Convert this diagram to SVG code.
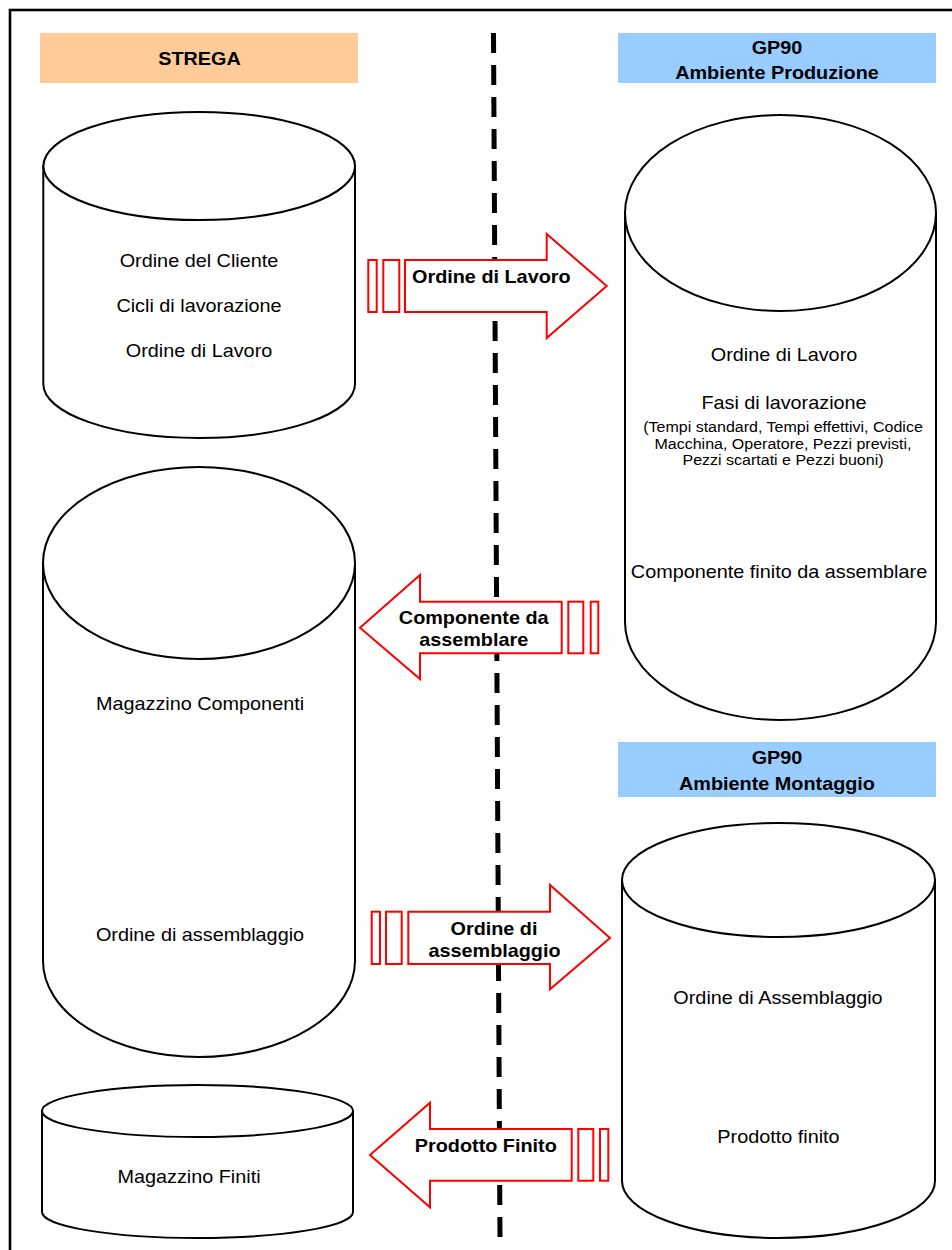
<svg xmlns="http://www.w3.org/2000/svg" width="952" height="1250" viewBox="0 0 952 1250">
  <style>
    .frame { fill: none; stroke: #000; stroke-width: 2.6; }
    .hdr-s { fill: #FFCC99; }
    .hdr-g { fill: #99CCFF; }
    .cyl { fill: #fff; stroke: #000; stroke-width: 2; }
    .flow { fill: #fff; stroke: #FF0000; stroke-width: 2; }
    .divider { fill: none; stroke: #000; stroke-width: 5; stroke-dasharray: 20 12; }
    text { font-family: "Liberation Sans", Arial, sans-serif; text-anchor: middle; fill: #000; }
    .t { font-size: 18.2px; }
    .s { font-size: 14.7px; }
    .b { font-size: 18.2px; font-weight: bold; }
  </style>

  <rect class="frame" x="10" y="10" width="960" height="1260"/>

  <!-- system headers -->
  <g id="hdr-strega">
    <rect class="hdr-s" x="40" y="33" width="318" height="50"/>
    <text class="b" transform="translate(199.5 65) scale(1.09 1)">STREGA</text>
  </g>
  <g id="hdr-produzione">
    <rect class="hdr-g" x="618" y="33" width="318" height="50"/>
    <text class="b" transform="translate(777 54) scale(1.09 1)">GP90</text>
    <text class="b" transform="translate(777 79) scale(1.09 1)">Ambiente Produzione</text>
  </g>
  <g id="hdr-montaggio">
    <rect class="hdr-g" x="618" y="742" width="318" height="55"/>
    <text class="b" transform="translate(777 764) scale(1.09 1)">GP90</text>
    <text class="b" transform="translate(777 790) scale(1.09 1)">Ambiente Montaggio</text>
  </g>

  <!-- boundary between the two systems -->
  <g id="divider">
    <line class="divider" x1="493.5" y1="33" x2="500" y2="1240"/>
  </g>

  <!-- data stores -->
  <g id="db-strega">
    <path class="cyl" d="M43.3,166 L43.3,384 A155.8,54 0 0 0 355,384 L355,166 Z"/>
    <ellipse class="cyl" cx="199.2" cy="166" rx="155.8" ry="54"/>
    <text class="t" transform="translate(199 266.7) scale(1.09 1)">Ordine del Cliente</text>
    <text class="t" transform="translate(199 311.7) scale(1.09 1)">Cicli di lavorazione</text>
    <text class="t" transform="translate(199 356.7) scale(1.09 1)">Ordine di Lavoro</text>
  </g>

  <g id="db-magazzino-componenti">
    <path class="cyl" d="M43,563 L43,961 A156,96 0 0 0 355,961 L355,563 Z"/>
    <ellipse class="cyl" cx="199" cy="563" rx="156" ry="96"/>
    <text class="t" transform="translate(200 710) scale(1.09 1)">Magazzino Componenti</text>
    <text class="t" transform="translate(200 941) scale(1.09 1)">Ordine di assemblaggio</text>
  </g>

  <g id="db-magazzino-finiti">
    <path class="cyl" d="M42,1111 L42,1212 A155.5,26 0 0 0 353,1212 L353,1111 Z"/>
    <ellipse class="cyl" cx="197.5" cy="1111" rx="155.5" ry="26"/>
    <text class="t" transform="translate(189 1183.3) scale(1.09 1)">Magazzino Finiti</text>
  </g>

  <g id="db-produzione">
    <path class="cyl" d="M625,213 L625,622 A155.5,98 0 0 0 936,622 L936,213 Z"/>
    <ellipse class="cyl" cx="780.5" cy="213" rx="155.5" ry="98"/>
    <text class="t" transform="translate(784 361) scale(1.09 1)">Ordine di Lavoro</text>
    <text class="t" transform="translate(784 409) scale(1.09 1)">Fasi di lavorazione</text>
    <text class="s" transform="translate(783 432) scale(1.09 1)">(Tempi standard, Tempi effettivi, Codice</text>
    <text class="s" transform="translate(783 449) scale(1.09 1)">Macchina, Operatore, Pezzi previsti,</text>
    <text class="s" transform="translate(783 465) scale(1.09 1)">Pezzi scartati e Pezzi buoni)</text>
    <text class="t" transform="translate(779 578.3) scale(1.09 1)">Componente finito da assemblare</text>
  </g>

  <g id="db-montaggio">
    <path class="cyl" d="M622,880 L622,1181 A156.5,57 0 0 0 935,1181 L935,880 Z"/>
    <ellipse class="cyl" cx="778.5" cy="880" rx="156.5" ry="57"/>
    <text class="t" transform="translate(778 1004) scale(1.09 1)">Ordine di Assemblaggio</text>
    <text class="t" transform="translate(778.5 1143) scale(1.09 1)">Prodotto finito</text>
  </g>

  <!-- data flows between the systems -->
  <g id="flows">
    <g id="flow-ordine-lavoro">
      <rect class="flow" x="368.3" y="260" width="8.4" height="52"/>
      <rect class="flow" x="383.3" y="260" width="16" height="52"/>
      <polygon class="flow" points="405,260 546.7,260 546.7,234 606.7,286 546.7,338 546.7,312 405,312"/>
      <text class="b" transform="translate(491.3 283.3) scale(1.09 1)">Ordine di Lavoro</text>
    </g>
    <g id="flow-componente">
      <rect class="flow" x="568.3" y="601.7" width="15" height="51.6"/>
      <rect class="flow" x="590.7" y="601.7" width="7.6" height="51.6"/>
      <polygon class="flow" points="561.7,601.7 420,601.7 420,575 360,627.7 420,679 420,653.3 561.7,653.3"/>
      <text class="b" transform="translate(473.7 624) scale(1.09 1)">Componente da</text>
      <text class="b" transform="translate(473.7 646) scale(1.09 1)">assemblare</text>
    </g>
    <g id="flow-assemblaggio">
      <rect class="flow" x="371.7" y="911.7" width="8.3" height="52.3"/>
      <rect class="flow" x="386" y="911.7" width="15.7" height="52.3"/>
      <polygon class="flow" points="408.3,911.7 550,911.7 550,885 610,938 550,989.3 550,964 408.3,964"/>
      <text class="b" transform="translate(494 935) scale(1.09 1)">Ordine di</text>
      <text class="b" transform="translate(494.5 956.7) scale(1.09 1)">assemblaggio</text>
    </g>
    <g id="flow-prodotto">
      <rect class="flow" x="578.3" y="1129" width="15" height="51.7"/>
      <rect class="flow" x="600" y="1129" width="8.3" height="51.7"/>
      <polygon class="flow" points="571.7,1129 430,1129 430,1102.7 370,1155 430,1207.3 430,1180.7 571.7,1180.7"/>
      <text class="b" transform="translate(485.8 1151.7) scale(1.09 1)">Prodotto Finito</text>
    </g>
  </g>
</svg>
